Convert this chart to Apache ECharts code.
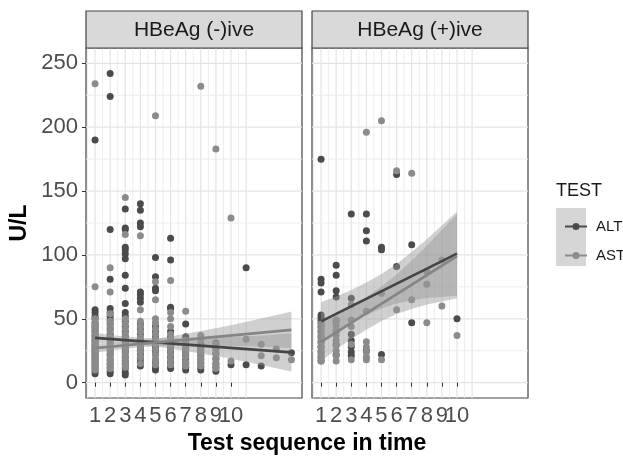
<!DOCTYPE html>
<html><head><meta charset="utf-8">
<script src="https://cdn.jsdelivr.net/npm/echarts@6/dist/echarts.min.js"></script>
<style>html,body{margin:0;padding:0;background:#fff}#c{width:623px;height:457px}</style>
</head><body><div id="c"></div>
<script>
// ---------- data ----------
const panels = ['HBeAg (-)ive', 'HBeAg (+)ive'];
const legendNames = ['ALT', 'AST'];
const xTicks = [1, 2, 3, 4, 5, 6, 7, 8, 9, 10];
const yTicks = [0, 50, 100, 150, 200, 250];
const xGridLines = [0.5, 1, 1.5, 2, 2.5, 3, 3.5, 4, 4.5, 5, 5.5, 6, 6.5, 7, 7.5, 8, 8.5, 9, 9.5, 10, 10.5, 11];
const yGridLines = [0, 25, 50, 75, 100, 125, 150, 175, 200, 225, 250];

// HBeAg (-)ive, ALT
const negALT = [
  [1,190],[1,57],[1,55],[1,52],[1,50],[1,47],[1,45],[1,43],[1,41],[1,39],[1,37],[1,35],[1,33],[1,31],[1,29],[1,27],[1,25],[1,23],[1,21],[1,19],[1,17],[1,15],[1,13],[1,11],[1,9],[1,7],
  [2,242],[2,224],[2,120],[2,81],[2,58],[2,55],[2,52],[2,49],[2,46],[2,42],[2,38],[2,35],[2,31],[2,28],[2,25],[2,22],[2,18],[2,15],[2,12],[2,9],[2,7],
  [3,136],[3,121],[3,120],[3,106],[3,104],[3,101],[3,97],[3,84],[3,74],[3,62],[3,55],[3,52],[3,48],[3,44],[3,40],[3,36],[3,33],[3,30],[3,27],[3,24],[3,20],[3,17],[3,14],[3,11],[3,8],[3,6],
  [4,140],[4,135],[4,125],[4,122],[4,71],[4,69],[4,66],[4,63],[4,46],[4,42],[4,38],[4,34],[4,31],[4,28],[4,25],[4,22],[4,19],[4,16],[4,13],
  [5,98],[5,83],[5,74],[5,72],[5,44],[5,40],[5,36],[5,32],[5,28],[5,25],[5,22],[5,18],[5,15],[5,12],[5,10],
  [6,113],[6,96],[6,59],[6,58],[6,40],[6,36],[6,32],[6,28],[6,24],[6,20],[6,16],[6,13],[6,11],
  [7,46],[7,36],[7,30],[7,27],[7,24],[7,21],[7,18],[7,15],[7,12],[7,10],
  [8,30],[8,27],[8,24],[8,21],[8,18],[8,15],[8,12],[8,10],
  [9,31],[9,27],[9,23],[9,19],[9,15],[9,12],[9,9],
  [10,14],[11,90],[11,14],[12,13],[14,23.5]
];
// HBeAg (-)ive, AST
const negAST = [
  [1,234],[1,75],[1,50],[1,47],[1,44],[1,40],[1,37],[1,33],[1,30],[1,28],[1,26],[1,24],[1,22],[1,20],[1,18],[1,16],[1,13],[1,10],
  [2,90],[2,71],[2,54],[2,48],[2,44],[2,40],[2,36],[2,33],[2,29],[2,26],[2,23],[2,20],[2,17],[2,14],[2,11],
  [3,145],[3,116],[3,50],[3,46],[3,42],[3,38],[3,34],[3,30],[3,26],[3,22],[3,19],[3,15],[3,12],
  [4,115],[4,57],[4,48],[4,44],[4,40],[4,36],[4,32],[4,28],[4,24],[4,20],[4,15],
  [5,209],[5,79],[5,65],[5,50],[5,47],[5,42],[5,38],[5,34],[5,30],[5,26],[5,22],[5,18],[5,14],
  [6,80],[6,55],[6,50],[6,44],[6,38],[6,34],[6,30],[6,26],[6,22],[6,18],[6,14],
  [7,56],[7,33],[7,29],[7,26],[7,23],[7,20],[7,16],[7,13],
  [8,232],[8,37],[8,33],[8,28],[8,25],[8,22],[8,19],[8,16],[8,13],
  [9,183],[9,30],[9,26],[9,22],[9,18],[9,14],[9,11],
  [10,129],[10,17],[11,34],[12,30],[12,21],[13,26.5],[13,19.5],[14,18]
];
// HBeAg (+)ive, ALT
const posALT = [
  [1,175],[1,81],[1,78],[1,71],[1,53],[1,51],[1,49],[1,47],[1,44],[1,40],[1,36],[1,32],[1,28],[1,24],[1,20],[1,17],
  [2,92],[2,84],[2,72],[2,67],[2,48],[2,40],[2,30],[2,22],
  [3,132],[3,66],[3,38],[3,33],[3,28],[3,24],[3,21],
  [4,132],[4,119],[4,111],[4,25],
  [5,106],[5,104],[5,22],
  [6,163],[6,91],
  [7,108],[7,47],
  [10,50]
];
// HBeAg (+)ive, AST
const posAST = [
  [1,46],[1,42],[1,38],[1,35],[1,31],[1,28],[1,25],[1,22],[1,19],[1,17],
  [2,49],[2,45],[2,41],[2,37],[2,33],[2,29],[2,25],[2,21],[2,17],
  [3,61],[3,49],[3,44],[3,30],[3,18],
  [4,196],[4,56],[4,32],[4,28],[4,24],[4,20],[4,18],
  [5,205],[5,70],[5,18],
  [6,166],[6,57],
  [7,164],[7,65],
  [8,87],[8,77],[8,47],
  [9,96],[9,60],
  [10,37]
];

// linear fits: [x, fitted]
const negALTfit = [[1,35],[14,23.7]];
const negASTfit = [[1,27],[14,41.4]];
const posALTfit = [[1,48],[10,101]];
const posASTfit = [[1,32],[10,99]];

// confidence bands: [x, lower, upper]
const negALTband = [[1,31,39],[2,30.9,37.3],[3,30.5,36.1],[4,29.6,35.2],[5,28.3,34.7],[6,26.7,34.7],[8,22.9,34.9],[10,18.7,35.7],[12,13.9,36.9],[14,8.7,38.7]];
const negASTband = [[1,23.5,30.5],[2,25.2,31],[3,26.6,31.8],[4,27.7,32.9],[5,28.4,34.4],[6,28.8,36.2],[8,29.2,40.4],[10,29,45],[12,28.2,50.2],[14,27.1,55.7]];
const posALTband = [[1,33,63],[2,40.4,67.4],[3,47,72.6],[4,52.9,78.5],[5,58.1,85.1],[6,61.9,92.9],[7,64.3,102.3],[8,66.2,112.2],[9,67.1,123.1],[10,68,134]];
const posASTband = [[1,17,47],[2,25.9,52.9],[3,34.1,59.7],[4,41.5,67.1],[5,48.3,75.3],[6,53.7,84.7],[7,57.7,95.7],[8,61.1,107.1],[9,63.6,119.6],[10,66,132]];

// ---------- styling ----------
const FONT = 'Liberation Sans, Arial, sans-serif';
const COL_ALT = '#4b4b4b';
const COL_AST = '#8b8b8b';
const LINE_ALT = '#454545';
const LINE_AST = '#858585';
const BAND_FILL = 'rgba(150,150,150,0.45)';
const GRID_L = [86, 312];
const GRID_TOP = 48, GRID_W = 216, GRID_H = 350;

const chart = echarts.init(document.getElementById('c'), null, {renderer: 'canvas'});

function vGridSeries(gi) {
  return {
    type: 'custom', name: 'vgrid' + gi, xAxisIndex: gi, yAxisIndex: gi, silent: true, z: 0,
    data: xGridLines.map(v => [v, 100]),
    encode: {x: 0, y: 1},
    renderItem: function (params, api) {
      const cs = params.coordSys;
      const p = api.coord([api.value(0), api.value(1)]);
      const major = Number.isInteger(api.value(0));
      return {type: 'line', shape: {x1: p[0], y1: cs.y, x2: p[0], y2: cs.y + cs.height},
        style: {stroke: major ? '#e4e4e4' : '#ececec', lineWidth: major ? 1.2 : 0.9}};
    }
  };
}
function hGridSeries(gi) {
  return {
    type: 'custom', name: 'hgrid' + gi, xAxisIndex: gi, yAxisIndex: gi, silent: true, z: 0,
    data: yGridLines.map(v => [1, v]),
    encode: {x: 0, y: 1},
    renderItem: function (params, api) {
      const cs = params.coordSys;
      const p = api.coord([api.value(0), api.value(1)]);
      const major = api.value(1) % 50 === 0;
      return {type: 'line', shape: {x1: cs.x, y1: p[1], x2: cs.x + cs.width, y2: p[1]},
        style: {stroke: major ? '#e4e4e4' : '#ececec', lineWidth: major ? 1.2 : 0.9}};
    }
  };
}
function scatterSeries(name, data, gi, color) {
  return {type: 'scatter', name: name, xAxisIndex: gi, yAxisIndex: gi, data: data,
    symbolSize: 7, itemStyle: {color: color, opacity: 1}, z: 2, silent: true};
}
function bandSeries(name, band, gi) {
  return {
    type: 'custom', name: name, xAxisIndex: gi, yAxisIndex: gi, silent: true, z: 3,
    data: band, encode: {x: 0, y: [1, 2]},
    renderItem: function (params, api) {
      if (params.dataIndex !== 0) return null;
      const upper = band.map(d => api.coord([d[0], d[2]]));
      const lower = band.map(d => api.coord([d[0], d[1]])).reverse();
      return {type: 'polygon', shape: {points: upper.concat(lower)}, style: {fill: BAND_FILL}};
    }
  };
}
function fitSeries(name, data, gi, color) {
  return {type: 'line', name: name, xAxisIndex: gi, yAxisIndex: gi, data: data,
    showSymbol: false, symbol: 'none', lineStyle: {color: color, width: 2.7}, itemStyle: {color: color}, z: 4, silent: true};
}

const iconPath = 'path://M0,2.6H22V4.4H0Z M14.5,3.5A3.5,3.5,0,1,1,7.5,3.5A3.5,3.5,0,1,1,14.5,3.5Z';

// the labels 9 and 10 touch (as in the reference), so they are split over two
// coincident axes so that neither gets dropped by overlap handling
const xAxisBase = (gi, ticks, showTick) => ({
  type: 'value', gridIndex: gi, min: 0.4, max: 14.7, position: 'bottom', offset: 0,
  axisLine: {show: false},
  axisTick: {show: showTick, customValues: ticks, length: 4, lineStyle: {color: '#333', width: 1}},
  axisLabel: {show: true, customValues: ticks, fontSize: 22, color: '#4d4d4d', fontFamily: FONT, margin: 7,
    hideOverlap: false, showMinLabel: true, showMaxLabel: true},
  splitLine: {show: false}
});

const option = {
  backgroundColor: '#ffffff',
  animation: false,
  grid: GRID_L.map(l => ({left: l, top: GRID_TOP, width: GRID_W, height: GRID_H,
    show: true, borderColor: '#444', borderWidth: 1.2, backgroundColor: 'transparent', containLabel: false})),
  xAxis: [
    xAxisBase(0, xTicks, true), xAxisBase(1, xTicks, true),
    xAxisBase(0, xTicks.filter(v => v >= 10), false), xAxisBase(1, xTicks.filter(v => v >= 10), false)
  ].map((a, i) => {
    if (i < 2) { a.axisLabel.customValues = xTicks.filter(v => v < 10); }
    return a;
  }),
  yAxis: [
    {type: 'value', gridIndex: 0, min: -12, max: 262,
      name: 'U/L', nameLocation: 'middle', nameGap: 55,
      nameTextStyle: {fontSize: 23, fontWeight: 'bold', color: '#000', fontFamily: FONT},
      axisLine: {show: false},
      axisTick: {show: true, customValues: yTicks, length: 4, lineStyle: {color: '#333', width: 1}},
      axisLabel: {show: true, customValues: yTicks, fontSize: 22, color: '#4d4d4d', fontFamily: FONT, margin: 8},
      splitLine: {show: false}},
    {type: 'value', gridIndex: 1, min: -12, max: 262,
      axisLine: {show: false}, axisTick: {show: false}, axisLabel: {show: false}, splitLine: {show: false}}
  ],
  legend: {
    data: [{name: legendNames[0], icon: iconPath}, {name: legendNames[1], icon: iconPath}],
    orient: 'vertical', left: 560, top: 214, itemWidth: 22, itemHeight: 7, itemGap: 14,
    selectedMode: false,
    textStyle: {fontSize: 15, color: '#1a1a1a', fontFamily: FONT, padding: [0, 0, 0, 4]}
  },
  graphic: [
    {type: 'rect', shape: {x: GRID_L[0], y: 11, width: GRID_W, height: 37}, style: {fill: '#d9d9d9', stroke: '#444', lineWidth: 1.2}, z: 1},
    {type: 'rect', shape: {x: GRID_L[1], y: 11, width: GRID_W, height: 37}, style: {fill: '#d9d9d9', stroke: '#444', lineWidth: 1.2}, z: 1},
    {type: 'text', x: GRID_L[0] + GRID_W / 2, y: 30, style: {text: panels[0], font: '21px ' + FONT, fill: '#1a1a1a', textAlign: 'center', textVerticalAlign: 'middle'}, z: 2},
    {type: 'text', x: GRID_L[1] + GRID_W / 2, y: 30, style: {text: panels[1], font: '21px ' + FONT, fill: '#1a1a1a', textAlign: 'center', textVerticalAlign: 'middle'}, z: 2},
    {type: 'text', x: (GRID_L[0] + GRID_L[1] + GRID_W) / 2, y: 444, style: {text: 'Test sequence in time', font: 'bold 23px ' + FONT, fill: '#000', textAlign: 'center', textVerticalAlign: 'middle'}, z: 2},
    {type: 'text', x: 556, y: 191, style: {text: 'TEST', font: '18px ' + FONT, fill: '#1a1a1a', textAlign: 'left', textVerticalAlign: 'middle'}, z: 2},
    {type: 'rect', shape: {x: 556, y: 208, width: 30, height: 58}, style: {fill: '#d6d6d6'}, z: 0}
  ],
  series: [
    vGridSeries(0), hGridSeries(0), vGridSeries(1), hGridSeries(1),
    scatterSeries('ALT', negALT, 0, COL_ALT),
    scatterSeries('AST', negAST, 0, COL_AST),
    scatterSeries('ALT', posALT, 1, COL_ALT),
    scatterSeries('AST', posAST, 1, COL_AST),
    bandSeries('ALT band', negALTband, 0),
    bandSeries('AST band', negASTband, 0),
    bandSeries('ALT band', posALTband, 1),
    bandSeries('AST band', posASTband, 1),
    fitSeries('ALT fit', negALTfit, 0, LINE_ALT),
    fitSeries('AST fit', negASTfit, 0, LINE_AST),
    fitSeries('ALT fit', posALTfit, 1, LINE_ALT),
    fitSeries('AST fit', posASTfit, 1, LINE_AST)
  ]
};
chart.setOption(option);
</script>
</body></html>
